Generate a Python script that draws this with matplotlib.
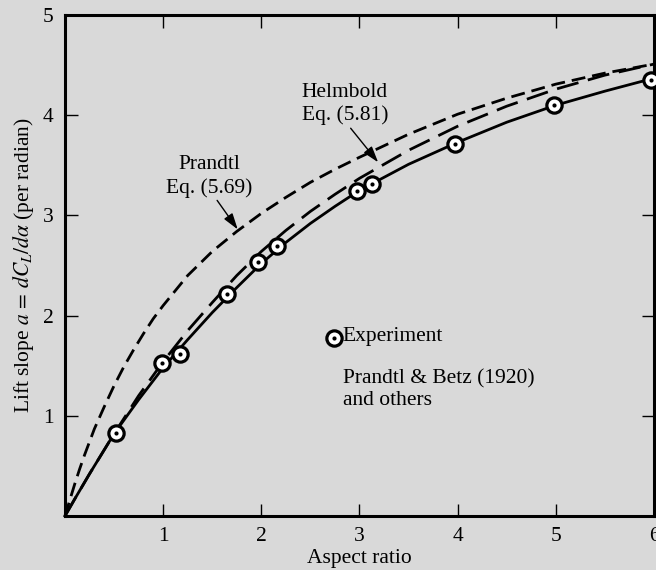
import matplotlib
matplotlib.use("Agg")
import matplotlib.pyplot as plt

plt.rcParams['font.family'] = ['Liberation Serif', 'DejaVu Serif']
plt.rcParams['mathtext.fontset'] = 'stix'

# experimental points (Prandtl & Betz 1920 and others)
exp_ar = [0.52, 0.99, 1.17, 1.65, 1.97, 2.16, 2.97, 3.13, 3.97, 4.98, 5.97]
exp_a = [0.83, 1.53, 1.62, 2.22, 2.53, 2.69, 3.24, 3.31, 3.71, 4.10, 4.35]

# Prandtl lifting-line curve
pr_ar = [0, 0.05, 0.1, 0.15, 0.2, 0.3, 0.4, 0.5, 0.6, 0.7, 0.8, 0.9, 1.0, 1.25, 1.5,
         1.75, 2.0, 2.25, 2.5, 2.75, 3.0, 3.5, 4.0, 4.5, 5.0, 5.5, 6.0]
prandtl = [0, 0.16, 0.32, 0.47, 0.61, 0.87, 1.09, 1.30, 1.49, 1.66, 1.82, 1.97, 2.10,
           2.40, 2.64, 2.84, 3.02, 3.18, 3.33, 3.46, 3.58, 3.81, 4.01, 4.17, 4.31, 4.42, 4.51]

# Helmbold curve and the faired line through the experiment
ar_grid = [0, 0.1, 0.25, 0.5, 0.75, 1.0, 1.25, 1.5, 1.75, 2.0, 2.25, 2.5, 2.75,
           3.0, 3.5, 4.0, 4.5, 5.0, 5.5, 6.0]
helmbold = [0, 0.17, 0.42, 0.82, 1.20, 1.54, 1.85, 2.13, 2.40, 2.64, 2.85, 3.04, 3.21,
            3.37, 3.65, 3.89, 4.09, 4.26, 4.40, 4.51]
fit_line = [0, 0.17, 0.42, 0.82, 1.16, 1.48, 1.76, 2.03, 2.28, 2.52, 2.73, 2.92, 3.09,
            3.25, 3.51, 3.73, 3.93, 4.10, 4.24, 4.37]

bg = '#d9d9d9'
fs = 15.5
fig = plt.figure(figsize=(6.56, 5.70), dpi=100, facecolor=bg)
ax = fig.add_axes([0.099, 0.0947, 0.898, 0.879])
ax.set_facecolor(bg)

ax.plot(ar_grid, fit_line, color='black', lw=2.0, clip_on=False)
ax.plot(ar_grid, helmbold, color='black', lw=2.0, dashes=(8, 3.5), clip_on=False)
ax.plot(pr_ar, prandtl, color='black', lw=2.0, dashes=(5, 2.5), clip_on=False)

ax.plot(exp_ar, exp_a, 'o', ms=11, mfc='white', mec='black', mew=2.3, clip_on=False, zorder=5)
ax.plot(exp_ar, exp_a, 'o', ms=3, mfc='black', mew=0, clip_on=False, zorder=6)

# key for the experiment symbol
ax.plot([2.74], [1.78], 'o', ms=11, mfc='white', mec='black', mew=2.3, zorder=5)
ax.plot([2.74], [1.78], 'o', ms=3, mfc='black', mew=0, zorder=6)
ax.text(2.83, 1.79, 'Experiment', fontsize=fs, va='center', ha='left')
ax.text(2.83, 1.26, 'Prandtl & Betz (1920)\nand others', fontsize=fs, va='center',
        ha='left', linespacing=1.15)

ax.text(1.47, 3.39, 'Prandtl\nEq. (5.69)', fontsize=fs, ha='center', va='center',
        linespacing=1.25)
ax.text(2.85, 4.11, 'Helmbold\nEq. (5.81)', fontsize=fs, ha='center', va='center',
        linespacing=1.25)
arrow = dict(arrowstyle='-|>,head_length=0.7,head_width=0.22', color='black', lw=1.0,
             mutation_scale=14, shrinkA=0, shrinkB=0)
ax.annotate('', xy=(1.76, 2.86), xytext=(1.55, 3.15), arrowprops=arrow)
ax.annotate('', xy=(3.19, 3.53), xytext=(2.91, 3.87), arrowprops=arrow)

ax.set_xlim(0, 6)
ax.set_ylim(0, 5)
ax.set_xticks([1, 2, 3, 4, 5, 6])
ax.set_yticks([1, 2, 3, 4, 5])
ax.tick_params(direction='in', length=9, width=1.0, labelsize=fs, top=True, right=True,
               pad=8)
for s in ax.spines.values():
    s.set_linewidth(2.2)

ax.set_xlabel('Aspect ratio', fontsize=fs, labelpad=2)
ax.set_ylabel(r'Lift slope $a\,=\,dC_L/d\alpha$ (per radian)', fontsize=15.5, labelpad=5)

fig.savefig('out.png', dpi=100, facecolor=bg)
